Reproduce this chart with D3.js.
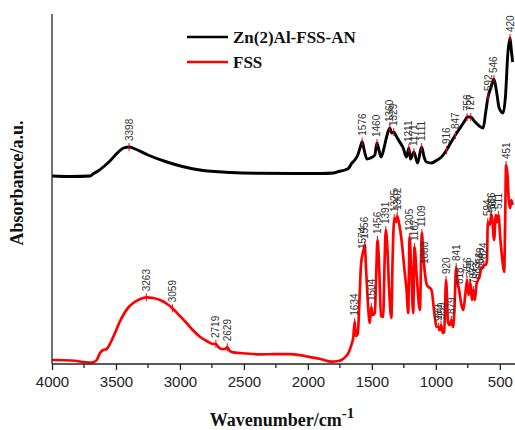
<!DOCTYPE html>
<html>
<head>
<meta charset="utf-8">
<script src="https://cdn.jsdelivr.net/npm/d3@7"></script>
<style>
	body { margin: 0; background: #fff; }
	svg { display: block; }
</style>
</head>
<body>
<div id="chart"></div>
<script>
// wavenumber (cm-1) and absorbance (a.u., arbitrary offset units)
const znWave = [4000, 3850, 3700, 3680, 3640, 3590, 3540, 3490, 3440, 3398, 3350, 3250, 3102, 2980, 2844, 2600, 2375, 2100, 1900, 1800, 1760, 1711, 1680, 1656, 1633, 1610, 1590, 1576, 1560, 1539, 1510, 1477, 1460, 1445, 1428, 1405, 1385, 1360, 1345, 1329, 1310, 1292, 1255, 1229, 1211, 1198, 1171, 1143, 1111, 1090, 1073, 1034, 990, 956, 916, 880, 847, 800, 770, 756, 727, 700, 660, 630, 610, 592, 570, 546, 525, 505, 474, 455, 438, 420, 410, 400];
const znAbs = [188, 187.5, 188, 190, 193, 198, 204, 211, 216, 217, 215, 209, 202, 197.5, 194, 191.5, 190.7, 190.5, 190.5, 191, 192.5, 194, 196, 201, 204, 209, 217, 222.3, 214, 205, 206, 209, 221, 214, 207, 216, 227, 236, 231, 232, 228, 224, 216, 207, 216, 205, 212, 201, 217, 206, 202, 201, 204, 207, 214, 222, 229, 238, 244, 247, 247, 243, 238, 236, 252, 267, 276, 285, 272, 256, 251, 269, 309, 326, 314, 302];

const fssWave = [4000, 3850, 3700, 3680, 3650, 3625, 3600, 3573, 3540, 3508, 3475, 3443, 3400, 3365, 3310, 3263, 3210, 3156, 3100, 3059, 3000, 2948, 2900, 2844, 2790, 2740, 2719, 2700, 2674, 2650, 2629, 2610, 2584, 2480, 2375, 2260, 2154, 2050, 1998, 1900, 1815, 1760, 1737, 1700, 1685, 1660, 1645, 1634, 1625, 1610, 1600, 1585, 1574, 1565, 1556, 1545, 1530, 1516, 1504, 1495, 1477, 1465, 1456, 1445, 1428, 1412, 1400, 1391, 1380, 1365, 1348, 1338, 1325, 1312, 1302, 1285, 1268, 1245, 1229, 1216, 1205, 1195, 1177, 1167, 1150, 1125, 1109, 1098, 1088, 1070, 1034, 1010, 995, 980, 968, 959, 945, 935, 920, 905, 891, 879, 865, 855, 841, 830, 818, 800, 785, 770, 756, 745, 729, 718, 707, 695, 683, 670, 656, 649, 637, 624, 610, 600, 594, 580, 566, 560, 545, 531, 520, 511, 495, 480, 466, 458, 451, 440, 430, 420, 410, 400];
const fssAbs = [4, 3.5, 1.5, 1.7, 4, 11, 14, 15, 22, 31, 41, 49, 57, 61, 65, 66.7, 66, 64, 60, 55.7, 48, 41, 34, 27.3, 23, 20, 20, 17, 15, 15, 16.7, 13, 11.7, 10.5, 9.7, 9.8, 9.9, 8.6, 7.3, 5, 2.3, 3, 4, 8, 10.7, 19, 27, 42.3, 28, 30, 54, 99, 109, 114, 119, 94, 59, 41, 57, 49, 51, 94, 124, 104, 48, 47, 104, 134, 119, 74, 46, 104, 146, 142, 148, 139, 124, 94, 74, 51, 127, 104, 51, 117, 89, 54, 131, 109, 94, 79, 74, 49, 37, 37, 34, 39, 31, 32, 84, 42, 39, 44, 37, 54, 97, 82, 74, 59, 54, 69, 84, 69, 81, 64, 74, 64, 79, 84, 89, 94, 96, 99, 99, 104, 142, 139, 149, 146, 124, 149, 142, 149, 124, 104, 92, 144, 199, 189, 164, 156, 164, 159];

const znPeaks = [3398, 1576, 1460, 1360, 1329, 1211, 1171, 1111, 916, 847, 756, 727, 592, 546, 420];
const fssPeaks = [3263, 3059, 2719, 2629, 1634, 1574, 1556, 1504, 1456, 1391, 1325, 1302, 1205, 1167, 1109, 1088, 980, 959, 920, 879, 841, 818, 756, 729, 707, 683, 656, 649, 624, 594, 566, 560, 511, 451];

const seriesNames = ["Zn(2)Al-FSS-AN", "FSS"];
const seriesColors = ["#000000", "#ff0000"];
const xTicks = [4000, 3500, 3000, 2500, 2000, 1500, 1000, 500];

const width = 515, height = 430;
const margin = { top: 14, right: 2, bottom: 66, left: 52 };

const svg = d3.select("#chart").append("svg")
	.attr("width", width)
	.attr("height", height);

const x = d3.scaleLinear()
	.domain([4000, 400])
	.range([margin.left, width - margin.right - 0.4]);

const y = d3.scaleLinear()
	.domain([0, 350])
	.range([height - margin.bottom, margin.top]);

const toPoints = (w, a) => w.map((d, i) => ({ w: d, a: a[i] }));
const znData = toPoints(znWave, znAbs);
const fssData = toPoints(fssWave, fssAbs);

// value on the curve at a given wavenumber (data sorted descending)
function valueAt(data, w) {
	for (let i = 0; i < data.length - 1; i++) {
		const p = data[i], q = data[i + 1];
		if (w <= p.w && w >= q.w) {
			const t = (p.w - w) / (p.w - q.w);
			return p.a + t * (q.a - p.a);
		}
	}
	return data[data.length - 1].a;
}

const line = d3.line()
	.x(d => x(d.w))
	.y(d => y(d.a))
	.curve(d3.curveMonotoneX);

svg.append("path")
	.datum(znData)
	.attr("fill", "none")
	.attr("stroke", seriesColors[0])
	.attr("stroke-width", 2.9)
	.attr("stroke-linejoin", "round")
	.attr("d", line);

svg.append("path")
	.datum(fssData)
	.attr("fill", "none")
	.attr("stroke", seriesColors[1])
	.attr("stroke-width", 2.7)
	.attr("stroke-linejoin", "round")
	.attr("d", line);

// peak markers and labels
function drawPeaks(data, peaks) {
	const g = svg.append("g");
	peaks.forEach(p => {
		const px = x(p), py = y(valueAt(data, p));
		g.append("line")
			.attr("x1", px).attr("x2", px)
			.attr("y1", py - 4).attr("y2", py + 4)
			.attr("stroke", "#ff0000")
			.attr("stroke-width", 1);
		g.append("text")
			.attr("transform", `translate(${px},${py - 6}) rotate(-90)`)
			.attr("dy", "0.35em")
			.attr("font-family", "Liberation Sans, Arial, sans-serif")
			.attr("font-size", 10)
			.attr("fill", "#333")
			.text(p);
	});
}
drawPeaks(znData, znPeaks);
drawPeaks(fssData, fssPeaks);

// axes
const xAxis = svg.append("g")
	.attr("transform", `translate(0,${height - margin.bottom})`)
	.call(d3.axisBottom(x)
		.tickValues(xTicks)
		.tickFormat(d3.format("d"))
		.tickSize(6)
		.tickPadding(6));
xAxis.select(".domain").attr("stroke", "#222").attr("stroke-width", 1.3).attr("d", `M${margin.left},0H${width}`);
xAxis.selectAll(".tick line").attr("stroke", "#222").attr("stroke-width", 1.3);
xAxis.selectAll("text")
	.attr("font-family", "Liberation Sans, Arial, sans-serif")
	.attr("font-size", 15)
	.attr("fill", "#222");

const minor = d3.range(3750, 400, -500);
svg.append("g").selectAll("line")
	.data(minor)
	.join("line")
	.attr("x1", d => x(d)).attr("x2", d => x(d))
	.attr("y1", height - margin.bottom)
	.attr("y2", height - margin.bottom + 4)
	.attr("stroke", "#222")
	.attr("stroke-width", 1.3);

svg.append("line")
	.attr("x1", margin.left).attr("x2", margin.left)
	.attr("y1", margin.top).attr("y2", height - margin.bottom)
	.attr("stroke", "#222")
	.attr("stroke-width", 1.3);

// axis titles
const xTitle = svg.append("text")
	.attr("x", 282)
	.attr("y", 426)
	.attr("text-anchor", "middle")
	.attr("font-family", "Liberation Serif, Times New Roman, serif")
	.attr("font-weight", "bold")
	.attr("font-size", 18)
	.attr("fill", "#111");
xTitle.append("tspan").text("Wavenumber/cm");
xTitle.append("tspan").attr("dy", -8).attr("font-size", 15).text("-1");

svg.append("text")
	.attr("transform", "translate(23,183) rotate(-90)")
	.attr("text-anchor", "middle")
	.attr("font-family", "Liberation Serif, Times New Roman, serif")
	.attr("font-weight", "bold")
	.attr("font-size", 18)
	.attr("fill", "#111")
	.text("Absorbance/a.u.");

// legend
const legend = svg.append("g").attr("transform", "translate(187,37)");
seriesNames.forEach((name, i) => {
	const row = legend.append("g").attr("transform", `translate(0,${i * 25})`);
	row.append("line")
		.attr("x1", 0).attr("x2", 41)
		.attr("stroke", seriesColors[i])
		.attr("stroke-width", 2.6);
	row.append("text")
		.attr("x", 46)
		.attr("y", 6)
		.attr("font-family", "Liberation Serif, Times New Roman, serif")
		.attr("font-weight", "bold")
		.attr("font-size", 17)
		.attr("fill", "#111")
		.text(name);
});
</script>
</body>
</html>
